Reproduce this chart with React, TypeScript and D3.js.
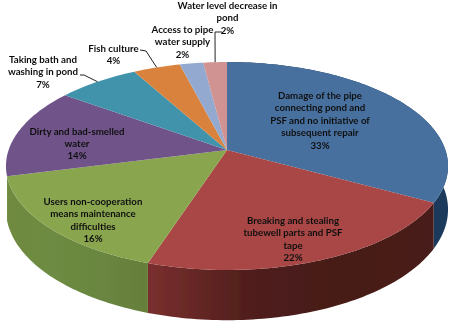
import * as d3 from 'd3';
import React from 'react';

const width = 454;
const height = 324;

// share of each cause, clockwise from 12 o'clock
const percents = [33, 22, 16, 14, 7, 4, 2, 2];
const labelLines = [
    ['Damage of the pipe', 'connecting pond and', 'PSF and no initiative of', 'subsequent repair'],
    ['Breaking and stealing', 'tubewell parts and PSF', 'tape'],
    ['Users non-cooperation', 'means maintenance', 'difficulties'],
    ['Dirty and bad-smelled', 'water'],
    ['Taking bath and', 'washing in pond'],
    ['Fish culture'],
    ['Access to pipe', 'water supply'],
    ['Water level decrease in', 'pond'],
];
const sliceColors = ['#47709f', '#a84644', '#89a54e', '#6f5389', '#4193ab', '#d9823c', '#93a9cf', '#d09392'];
// side wall shades, left to right on screen; only the front slices show a wall
const wallColors = [
    ['#1a3049', '#1d3a5c'],
    ['#7a2f2e', '#521f1d', '#461a18', '#4a1c1a'],
    ['#6f8a40', '#6d8b42', '#6a8640', '#657e3a'],
];

// where each label block sits: centre x, y of the first line
const labelPos = [
    [320, 99], [293, 224], [93, 205], [77, 134.5], [43, 63], [113.5, 52], [182.5, 33], [227.5, 9],
];
// elbow of the leader line, only for labels outside the pie
const leaderStart: Record<number, [number, number][]> = {
    4: [[80, 75], [84, 75]],
    5: [[140, 50], [146, 51]],
    7: [[222, 32], [215, 32]],
};

const lineHeight = 12.4;

// tilted disc seen in perspective, so the apex is above the ellipse's centre
const cx = 227;
const cy = 150;
const radiusX = 218.4;
const radiusY = 101.5;
const tilt = 0.154;
const depth = 42.5;

function project(angle: number, r = 1, drop = 0): [number, number] {
    const X = r * Math.sin(angle);
    const Y = -r * Math.cos(angle);
    const s = 1 / (1 - tilt * Y);
    return [cx + radiusX * X * s, cy + (radiusY * Y + drop) * s];
}

const slices = d3.pie<number>().sort(null).value(d => d)(percents);
const line = d3.line();

function rimAngles(a0: number, a1: number) {
    const n = Math.max(2, Math.ceil((a1 - a0) / 0.02));
    return d3.range(n + 1).map(i => a0 + (a1 - a0) * i / n);
}

function topPath(a0: number, a1: number) {
    const rim = rimAngles(a0, a1).map(a => project(a));
    return line([[cx, cy], ...rim])! + 'Z';
}

function wallPath(a0: number, a1: number) {
    const angles = rimAngles(a0, a1);
    const upper = angles.map(a => project(a));
    const lower = angles.slice().reverse().map(a => project(a, 1, depth));
    return line([...upper, ...lower])! + 'Z';
}

export default function App() {
    return (
        <svg
            width={width}
            height={height}
            viewBox={`0 0 ${width} ${height}`}
            style={{ position: 'absolute', top: 0, left: 0, background: '#fff' }}
            fontFamily="Lato, 'Open Sans', sans-serif"
        >
            <defs>
                {wallColors.map((stops, i) => {
                    const xs = rimAngles(slices[i].startAngle, slices[i].endAngle).map(a => project(a)[0]);
                    return (
                        <linearGradient
                            key={i}
                            id={`wall${i}`}
                            gradientUnits="userSpaceOnUse"
                            x1={d3.min(xs)}
                            x2={d3.max(xs)}
                            y1={0}
                            y2={0}
                        >
                            {stops.map((c, j) => (
                                <stop key={j} offset={j / (stops.length - 1)} stopColor={c} />
                            ))}
                        </linearGradient>
                    );
                })}
                <filter id="soft" x="-5%" y="-5%" width="110%" height="110%">
                    <feGaussianBlur stdDeviation="0.35" />
                </filter>
            </defs>
            <g filter="url(#soft)">
                {wallColors.map((_, i) => (
                    <path key={i} d={wallPath(slices[i].startAngle, slices[i].endAngle)} fill={`url(#wall${i})`} />
                ))}
                {slices.map((s, i) => (
                    <path key={i} d={topPath(s.startAngle, s.endAngle)} fill={sliceColors[i]} />
                ))}
                {Object.entries(leaderStart).map(([k, pts]) => {
                    const s = slices[+k];
                    const tip = project((s.startAngle + s.endAngle) / 2);
                    return <path key={k} d={line([...pts, tip])!} fill="none" stroke="#222" strokeWidth={1} />;
                })}
                {percents.map((p, i) => {
                    const [x, y] = labelPos[i];
                    return (
                        <text
                            key={i}
                            x={x}
                            y={y}
                            textAnchor="middle"
                            fontSize={9.7}
                            fontWeight={700}
                            fill="#111"
                        >
                            {[...labelLines[i], `${p}%`].map((t, j) => (
                                <tspan key={j} x={x} dy={j === 0 ? 0 : lineHeight}>{t}</tspan>
                            ))}
                        </text>
                    );
                })}
            </g>
        </svg>
    );
}
